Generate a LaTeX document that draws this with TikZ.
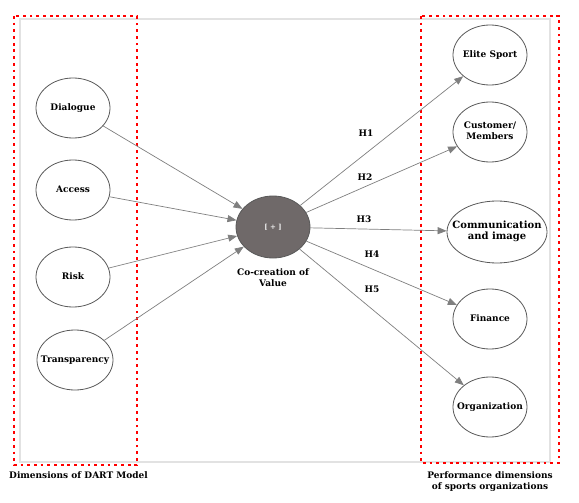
\documentclass[tikz,border=0pt]{standalone}
\usepackage{fontspec}
\setmainfont{DejaVu Serif}
\usetikzlibrary{arrows.meta,shapes.geometric}

\definecolor{framegray}{HTML}{E2E2E2}
\definecolor{edgegray}{HTML}{7F7F7F}
\definecolor{valuegray}{HTML}{6F6969}
\newcommand{\ctxt}[1]{\makebox[0pt]{\begin{tabular}{@{}c@{}}#1\end{tabular}}}

\begin{document}
\begin{tikzpicture}[x=1pt,y=-1pt,
  construct/.style={ellipse, draw=black!65, line width=0.8pt, fill=white,
    minimum width=74pt, minimum height=60pt, inner sep=0pt,
    font=\bfseries\fontsize{9}{10.5}\selectfont},
  relation/.style={draw=edgegray, line width=0.7pt, -{Triangle[length=9pt,width=7pt]}},
  dartbox/.style={draw=red, line width=2.8pt, dash pattern=on 2.8pt off 3.9pt},
  caption/.style={font=\bfseries\fontsize{9}{11}\selectfont, align=center, inner sep=0pt}]
\useasboundingbox (0,0) rectangle (579,503);
\renewcommand{\arraystretch}{1.0}

% frame and the two groups
\draw[framegray, line width=1.5pt] (20,19) rectangle (550,462);
\draw[dartbox] (14,16) rectangle (137,465);
\draw[dartbox] (421,16) rectangle (559,463);

% DART dimensions
\node[construct] (dialogue) at (73,108) {\ctxt{Dialogue}};
\node[construct] (access) at (73,190) {\ctxt{Access}};
\node[construct] (risk) at (73,277) {\ctxt{Risk}};
\node[construct, minimum width=76pt] (transparency) at (75,360) {\ctxt{Transparency}};

% co-creation of value
\node[construct, fill=valuegray, minimum width=74pt, minimum height=62pt] (value) at (273,227)
  {\makebox[0pt]{\textcolor{white!85!gray}{\fontsize{7}{8}\selectfont [ + ]}}};
\node[caption] (valuetext) at (273,278) {Co-creation of\\Value};

% performance dimensions
\node[construct] (elite) at (490,55) {\ctxt{Elite Sport}};
\node[construct] (customer) at (490,132) {\ctxt{Customer/\\Members}};
\node[construct, minimum width=100pt, minimum height=62pt, font=\bfseries\fontsize{10}{11}\selectfont] (communication) at (497,232) {\ctxt{Communication\\and image}};
\node[construct] (finance) at (490,319) {\ctxt{Finance}};
\node[construct] (organization) at (490,407) {\ctxt{Organization}};

% paths
\draw[relation] (dialogue) -- (value);
\draw[relation] (access) -- (value);
\draw[relation] (risk) -- (value);
\draw[relation] (transparency) -- (value);
\draw[relation] (value) -- (elite);
\draw[relation] (value) -- (customer);
\draw[relation] (value) -- (communication);
\draw[relation] (value) -- (finance);
\draw[relation] (value) -- (organization);

% hypotheses
\node[caption] (h1) at (366,133) {H1};
\node[caption] (h2) at (365,177) {H2};
\node[caption] (h3) at (364,219) {H3};
\node[caption] (h4) at (372,254) {H4};
\node[caption] (h5) at (372,289) {H5};

% group captions
\node[caption, anchor=west] (dartlabel) at (9,475) {Dimensions of DART Model};
\node[caption] (perflabel) at (490,482) {Performance dimensions\\of sports organizations};
\end{tikzpicture}
\end{document}
